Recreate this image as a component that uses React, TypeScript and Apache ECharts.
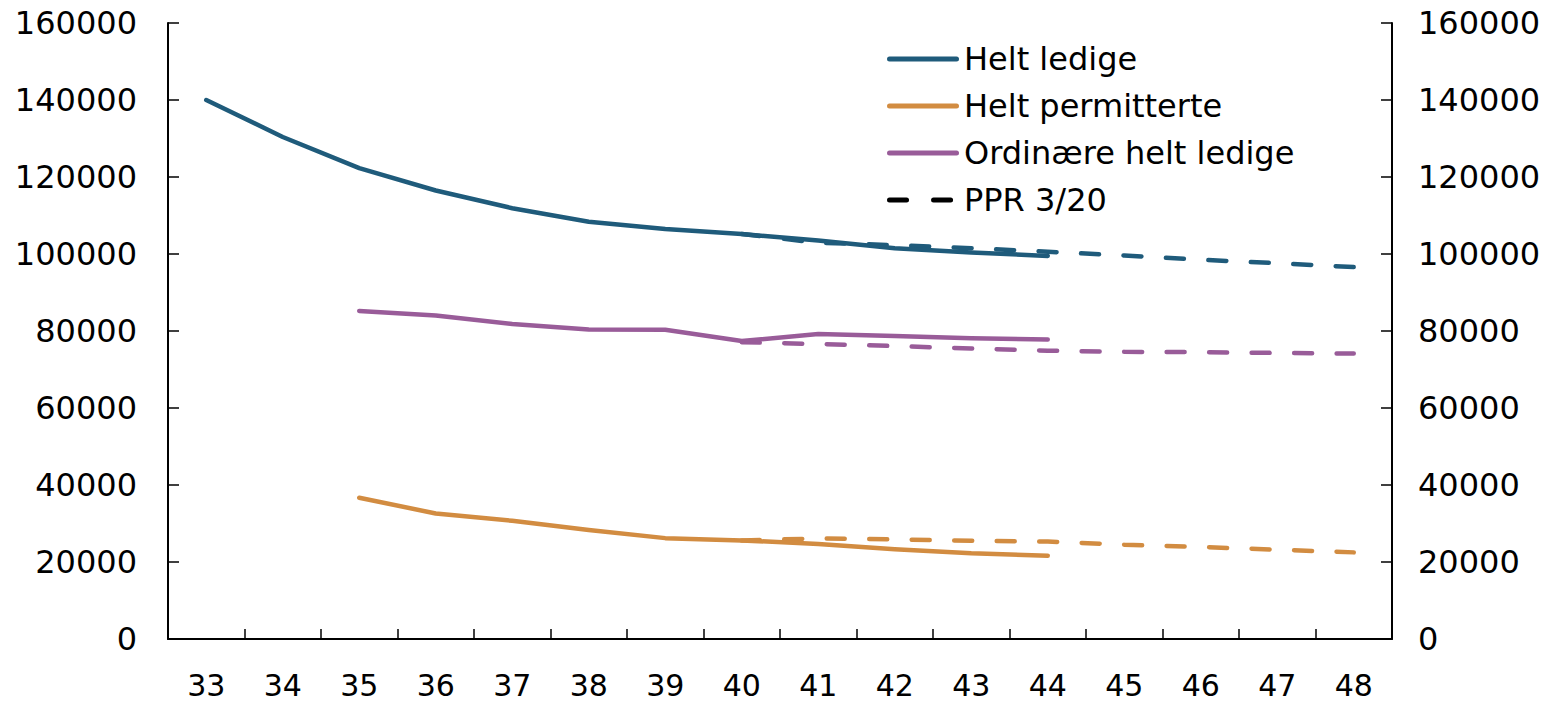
import React, { useEffect, useRef } from "react";
import * as echarts from "echarts";

const categories = ["33", "34", "35", "36", "37", "38", "39", "40", "41", "42", "43", "44", "45", "46", "47", "48"];

const heltLedige = [140000, 130400, 122300, 116500, 111900, 108400, 106500, 105200, 103500, 101500, 100400, 99500, null, null, null, null];
const heltPermitterte = [null, null, 36700, 32600, 30700, 28300, 26200, 25600, 24700, 23300, 22250, 21650, null, null, null, null];
const ordinaere = [null, null, 85200, 84000, 81800, 80400, 80300, 77400, 79200, 78700, 78100, 77800, null, null, null, null];

const pprHeltLedige = [null, null, null, null, null, null, null, 105200, 102900, 102300, 101500, 100600, 99600, 98500, 97600, 96600];
const pprPermitterte = [null, null, null, null, null, null, null, 25600, 26100, 25900, 25500, 25300, 24500, 23900, 23200, 22500];
const pprOrdinaere = [null, null, null, null, null, null, null, 77100, 76600, 76100, 75450, 74900, 74600, 74500, 74300, 74150];

const legendNames = ["Helt ledige", "Helt permitterte", "Ordinære helt ledige", "PPR 3/20"];

const BLUE = "#1f5b7b";
const ORANGE = "#d28c41";
const PURPLE = "#995c99";
const FONT = "DejaVu Sans";
const DASH = [18, 24.5];
const LW = 4.5;

const SOLID_ICON = "path://M2.5,0H69.5A2.5,2.5,0,0,1,69.5,5H2.5A2.5,2.5,0,0,1,2.5,0Z";
const DASH_ICON =
  "path://M2.5,0H19.5A2.5,2.5,0,0,1,19.5,5H2.5A2.5,2.5,0,0,1,2.5,0Z M46.5,0H63.5A2.5,2.5,0,0,1,63.5,5H46.5A2.5,2.5,0,0,1,46.5,0Z M71.9,2.4V2.6Z";

export default function App() {
  const ref = useRef<HTMLDivElement>(null);
  useEffect(() => {
    if (!ref.current) return;
    const chart = echarts.init(ref.current, undefined, { renderer: "svg" });
    const yAxisBase = {
      type: "value",
      min: 0,
      max: 160000,
      interval: 20000,
      splitLine: { show: false },
      axisLine: { show: true, lineStyle: { color: "#000", width: 2 } },
      axisTick: { show: true, inside: true, length: 11, lineStyle: { color: "#000", width: 1.5 } },
      axisLabel: { color: "#000", fontSize: 32, fontFamily: FONT, formatter: (v: number) => String(v) },
    };
    const solid = (name: string, data: (number | null)[], color: string) => ({
      name,
      type: "line",
      data,
      symbol: "none",
      connectNulls: false,
      lineStyle: { color, width: LW, cap: "round", join: "round" },
      itemStyle: { color },
      z: 3,
    });
    const dashed = (name: string, data: (number | null)[], color: string) => ({
      name,
      type: "line",
      data,
      symbol: "none",
      lineStyle: { color, width: LW, type: DASH, cap: "round" },
      itemStyle: { color },
      z: 2,
    });
    chart.setOption({
      animation: false,
      grid: { left: 168, right: 165, top: 23, bottom: 62, containLabel: false },
      legend: {
        show: true,
        orient: "vertical",
        left: 882,
        top: 38,
        itemWidth: 72,
        itemHeight: 5,
        itemGap: 15,
        symbolKeepAspect: false,
        itemStyle: { borderWidth: 0 },
        lineStyle: { width: 0 },
        data: [
          { name: legendNames[0], icon: SOLID_ICON },
          { name: legendNames[1], icon: SOLID_ICON },
          { name: legendNames[2], icon: SOLID_ICON },
          { name: legendNames[3], icon: DASH_ICON },
        ],
        textStyle: { color: "#000", fontSize: 32, fontFamily: FONT },
      },
      xAxis: {
        type: "category",
        data: categories,
        boundaryGap: true,
        axisLine: { show: true, lineStyle: { color: "#000", width: 2 } },
        axisTick: { show: true, inside: true, length: 10, interval: 0, lineStyle: { color: "#000", width: 1.5 } },
        axisLabel: { color: "#000", fontSize: 30, lineHeight: 30, fontFamily: FONT, margin: 31, interval: 0 },
      },
      yAxis: [
        { ...yAxisBase, position: "left", axisLabel: { ...yAxisBase.axisLabel, margin: 31 } },
        { ...yAxisBase, position: "right", axisLabel: { ...yAxisBase.axisLabel, margin: 26 } },
      ],
      series: [
        dashed("PPR ledige", pprHeltLedige, BLUE),
        dashed("PPR permitterte", pprPermitterte, ORANGE),
        dashed("PPR ordinære", pprOrdinaere, PURPLE),
        solid(legendNames[0], heltLedige, BLUE),
        solid(legendNames[1], heltPermitterte, ORANGE),
        solid(legendNames[2], ordinaere, PURPLE),
        {
          name: legendNames[3],
          type: "line",
          data: [],
          symbol: "none",
          lineStyle: { color: "#000", width: LW, type: DASH, cap: "round" },
          itemStyle: { color: "#000" },
        },
      ],
    });
    return () => chart.dispose();
  }, []);
  return (
    <div
      ref={ref}
      style={{ position: "fixed", left: 0, top: 0, width: 1557, height: 701, background: "#fff" }}
    />
  );
}
